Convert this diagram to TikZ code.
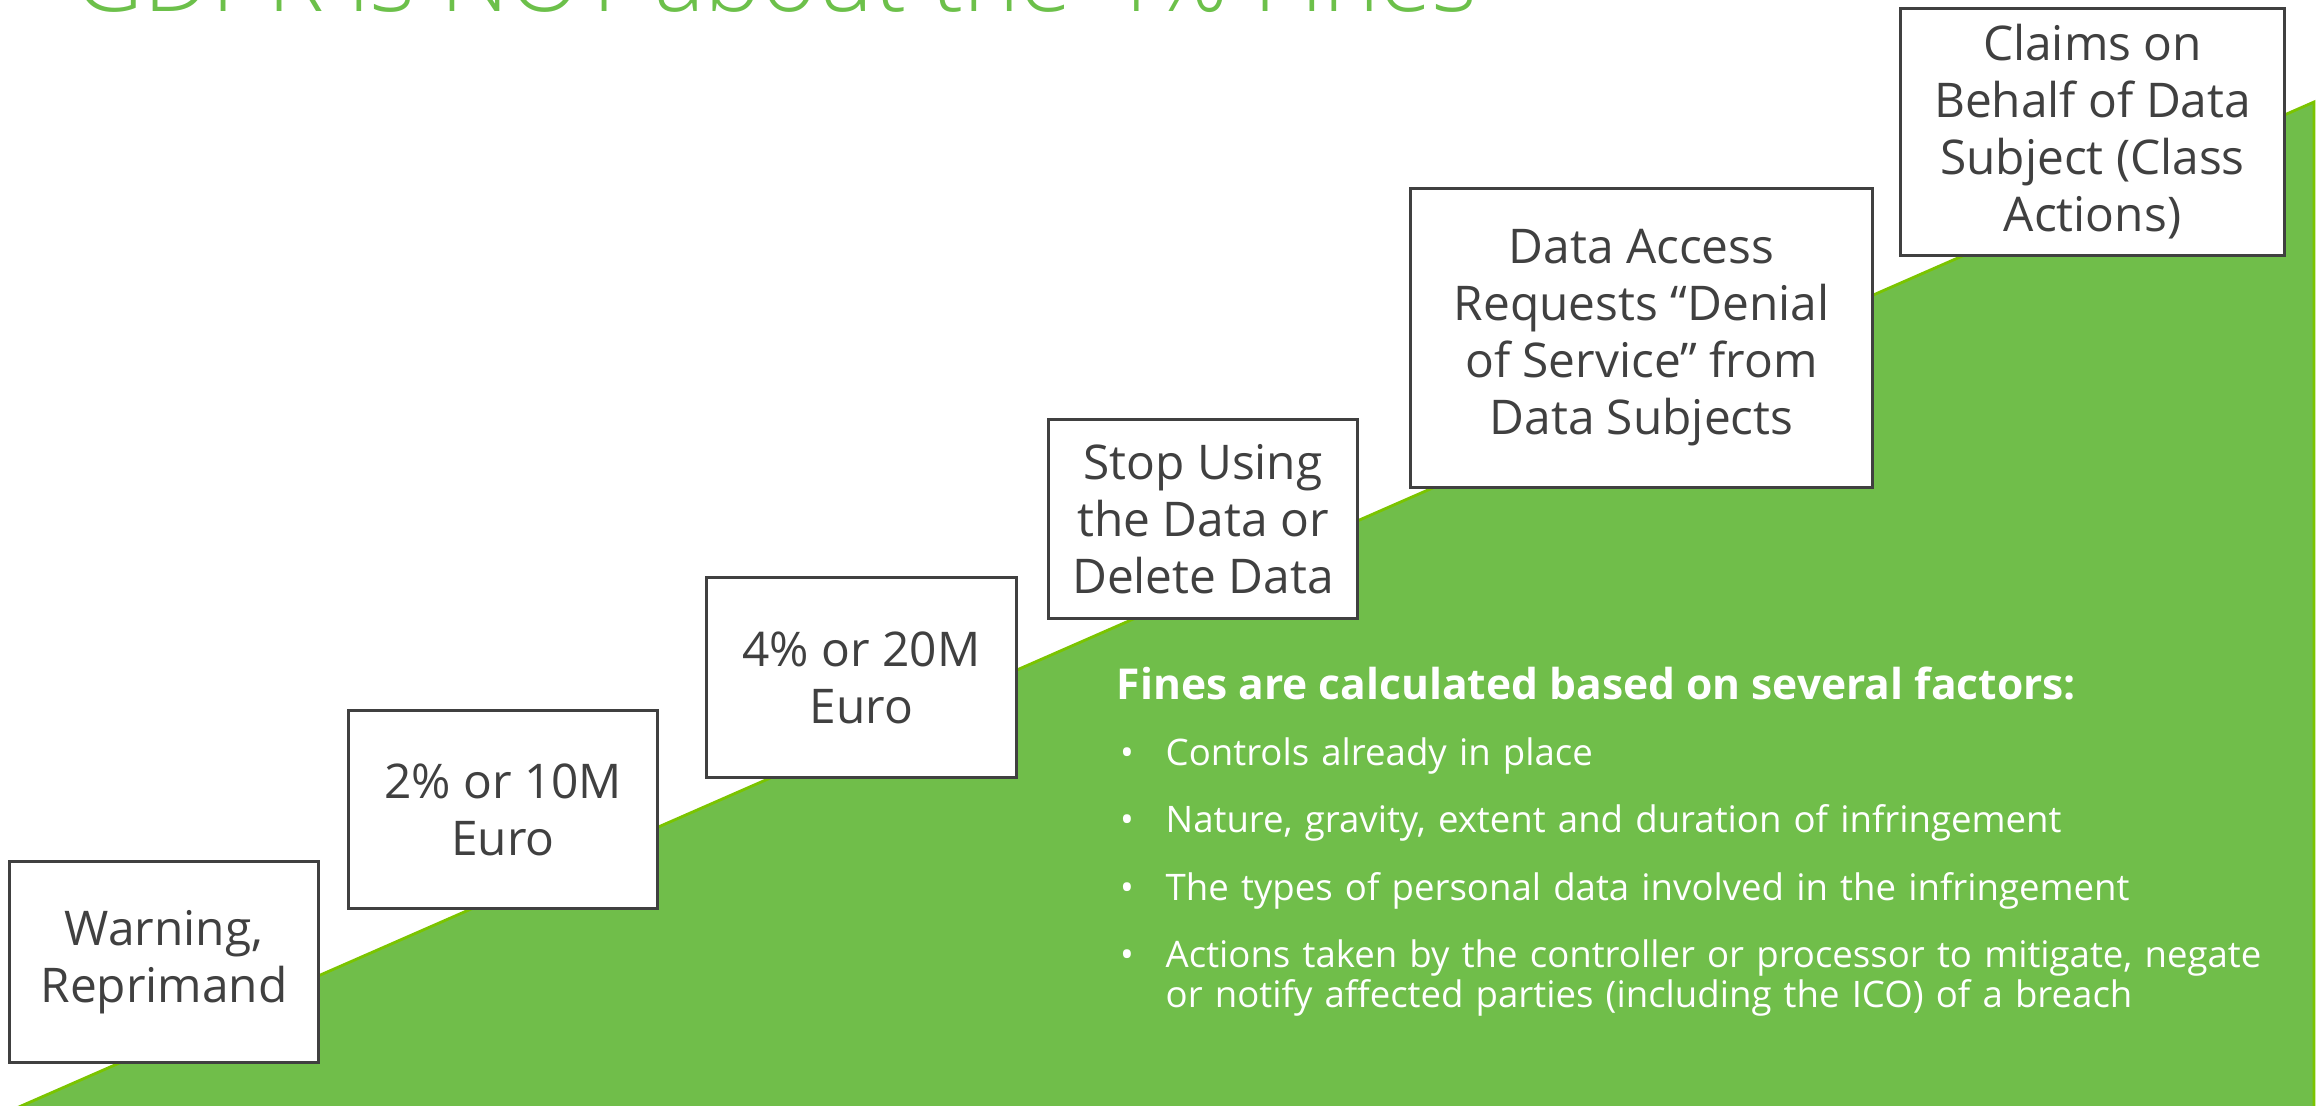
\documentclass[tikz,border=0pt]{standalone}
\usepackage{fontspec}
\setmainfont{Open Sans}
\newfontfamily\lightfont{Open Sans Light}
\usepackage{xcolor}
\definecolor{slopegreen}{HTML}{70BE4A}
\definecolor{slopeedge}{HTML}{7AC400}
\definecolor{titlegreen}{HTML}{6CC04A}
\definecolor{boxgray}{HTML}{404040}

\begin{document}
\begin{tikzpicture}[x=0.01cm,y=-0.01cm,
  stagebox/.style={draw=boxgray,line width=0.85pt,fill=white,text=boxgray,
    align=center,inner sep=0pt,font=\fontsize{13.6}{16.2}\selectfont},
  factor/.style={text=white,inner sep=0pt,font=\fontsize{10.4}{10.2}\selectfont}]
  \def\wedgeleft{12}
  \def\wedgeright{2314}
  \def\wedgetop{102}
  \useasboundingbox (0,0) rectangle (2321,1105);
  \clip (0,0) rectangle (2321,1105);
  \fill[slopegreen] (\wedgeleft,1110) -- (\wedgeright,\wedgetop) -- (\wedgeright,1110) -- cycle;
  \draw[slopeedge,line width=0.8pt] (\wedgeleft,1110) -- (\wedgeright,\wedgetop) -- (\wedgeright,1110);
  \node[anchor=base west,inner sep=0pt,text=titlegreen,font=\lightfont\fontsize{27.2}{30}\selectfont]
    (title) at (74,11) {GDPR is NOT about the 4\% Fines};
  \node[stagebox,minimum width=3.08cm,minimum height=2cm] (warning) at (164,962) {Warning,\\Reprimand};
  \node[stagebox,minimum width=3.08cm,minimum height=1.97cm] (twopct) at (503,809.5) {2\% or 10M\\Euro};
  \node[stagebox,minimum width=3.09cm,minimum height=2cm] (fourpct) at (861.5,677.5) {4\% or 20M\\Euro};
  \node[stagebox,minimum width=3.08cm,minimum height=1.98cm] (stopuse) at (1203,519) {Stop Using\\the Data or\\Delete Data};
  \node[stagebox,minimum width=4.61cm,minimum height=2.98cm] (access) at (1641.5,338) {Data Access\\Requests “Denial\\of Service” from\\Data Subjects};
  \node[stagebox,minimum width=3.83cm,minimum height=2.46cm] (claims) at (2092.5,132) {Claims on\\Behalf of Data\\Subject (Class\\Actions)};
  \node[factor,anchor=base west,font=\bfseries\fontsize{12.1}{14}\selectfont] (heading) at (1116,699)
    {Fines are calculated based on several factors:};
  \foreach \y/\txt [count=\i] in {765/Controls already in place,
      832/{Nature, gravity, extent and duration of infringement},
      900/The types of personal data involved in the infringement,
      967/{Actions taken by the controller or processor to mitigate, negate\\or notify affected parties (including the ICO) of a breach}}{
    \node[factor,anchor=base west,text width=12cm,align=left] (factor\i) at (1165,\y) {\txt};
    \node[factor,anchor=base] (dot\i) at (1127,\y) {•};
  }
\end{tikzpicture}
\end{document}
